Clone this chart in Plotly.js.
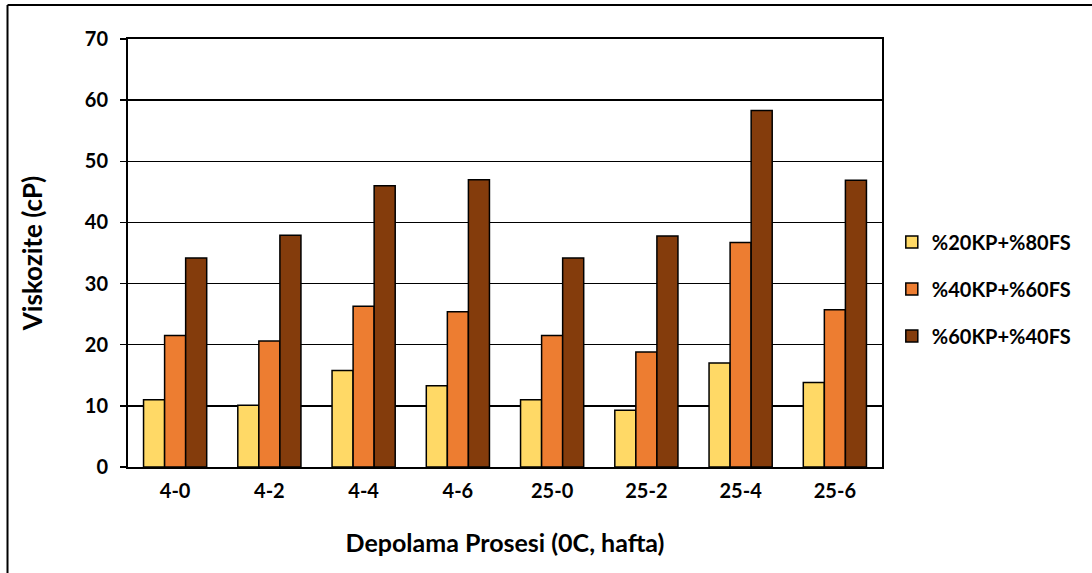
<!DOCTYPE html>
<html>
<head>
<meta charset="utf-8">
<script src="https://cdn.plot.ly/plotly-3.0.1.min.js"></script>
<style>html,body{margin:0;padding:0;background:#fff;}#chart{width:1092px;height:573px;}</style>
</head>
<body>
<div id="chart"></div>
<script>
const categories = ["4-0","4-2","4-4","4-6","25-0","25-2","25-4","25-6"];
const seriesNames = ["%20KP+%80FS","%40KP+%60FS","%60KP+%40FS"];
const kp20 = [11.0, 10.1, 15.8, 13.3, 11.0, 9.3, 17.0, 13.8];
const kp40 = [21.5, 20.6, 26.3, 25.4, 21.5, 18.8, 36.7, 25.7];
const kp60 = [34.2, 37.9, 46.0, 47.0, 34.2, 37.8, 58.3, 46.9];
const colors = ["#FFD966","#ED7D31","#843C0C"];
const yTicks = [0,10,20,30,40,50,60,70];

const font = "Lato, 'Open Sans', sans-serif";
const values = [kp20, kp40, kp60];
const traces = values.map((v,i)=>({
  type:'bar', x:categories, y:v, name:seriesNames[i], legendgroup:'g'+i,
  marker:{color:colors[i], line:{color:'#000', width:1.5}}
}));

const layout = {
  width:1092, height:573,
  margin:{l:128, r:210, t:39, b:106},
  paper_bgcolor:'#fff', plot_bgcolor:'#fff',
  barmode:'group', bargap:0.33, bargroupgap:0,
  font:{family:font, color:'#000', size:20},
  showlegend:true,
  legend:{x:1.013, y:0.416, xanchor:'left', yanchor:'middle', tracegroupgap:18, itemwidth:30,
    font:{family:font, size:20, weight:'bold'}, bgcolor:'rgba(0,0,0,0)'},
  xaxis:{type:'category', showline:true, linecolor:'#000', linewidth:2, mirror:true,
    ticks:'', tickfont:{family:font, size:20, weight:'bold'}, ticklabelstandoff:5,
    title:{text:'Depolama Prosesi (0C, hafta)', font:{family:font, size:25, weight:'bold'}, standoff:33}},
  yaxis:{range:[0,70], tickvals:yTicks, showline:true, linecolor:'#000', linewidth:2, mirror:true,
    showgrid:true, gridcolor:'#000', gridwidth:1.5, zeroline:false,
    ticks:'outside', ticklen:6, tickcolor:'#000', tickwidth:1.5, ticklabelstandoff:8,
    tickfont:{family:font, size:20, weight:'bold'},
    title:{text:'Viskozite (cP)', font:{family:font, size:26, weight:'bold'}, standoff:35}},
  shapes:[
    {type:'line', xref:'paper', yref:'paper', x0:-0.1598, x1:-0.1598, y0:1.0794, y1:-0.35, line:{color:'#000', width:2}},
    {type:'line', xref:'paper', yref:'paper', x0:-0.1598, x1:1.35, y0:1.0794, y1:1.0794, line:{color:'#000', width:2}}
  ]
};
Plotly.newPlot('chart', traces, layout, {displayModeBar:false, staticPlot:true});
</script>
</body>
</html>
